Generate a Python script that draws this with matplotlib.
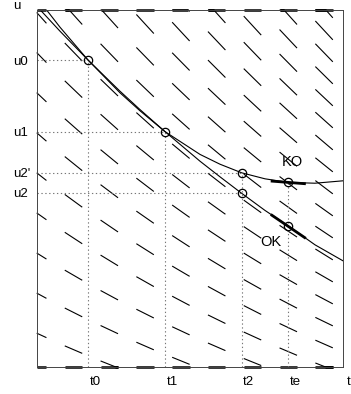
import numpy as np
import matplotlib
matplotlib.use('Agg')
import matplotlib.pyplot as plt

plt.rcParams['font.family'] = ['Liberation Sans', 'DejaVu Sans']

# axis ranges (arbitrary units)
t_min, t_max = -0.028, 8.52
u_min, u_max = 4.833, 13.75

# direction field: dash centres per column (u values)
field_t = [0, 1, 2, 3, 4, 5, 6, 7, 8]
field_u = [
    [4.66, 5.66, 6.66, 7.66, 8.66, 9.66, 10.66, 11.66, 12.66, 13.66, 14.66],
    [4.33, 5.26, 6.19, 7.12, 8.05, 8.98, 9.91, 10.84, 11.77, 12.70, 13.63, 14.56],
    [4.03, 4.89, 5.76, 6.62, 7.49, 8.35, 9.22, 10.08, 10.95, 11.81, 12.68, 13.54, 14.41],
    [4.55, 5.35, 6.16, 6.96, 7.77, 8.57, 9.38, 10.18, 10.99, 11.79, 12.59, 13.40, 14.20],
    [4.23, 4.98, 5.73, 6.48, 7.22, 7.97, 8.72, 9.47, 10.22, 10.96, 11.71, 12.46, 13.21, 13.96],
    [4.63, 5.33, 6.02, 6.72, 7.41, 8.11, 8.80, 9.50, 10.20, 10.89, 11.59, 12.28, 12.98, 13.67, 14.37],
    [4.31, 4.95, 5.60, 6.25, 6.89, 7.54, 8.19, 8.84, 9.48, 10.13, 10.78, 11.42, 12.07, 12.72, 13.36, 14.01],
    [4.61, 5.21, 5.81, 6.41, 7.01, 7.62, 8.22, 8.82, 9.42, 10.02, 10.62, 11.23, 11.83, 12.43, 13.03, 13.63, 14.23],
    [4.28, 4.84, 5.40, 5.96, 6.52, 7.08, 7.64, 8.20, 8.76, 9.32, 9.88, 10.44, 11.00, 11.56, 12.12, 12.68, 13.24, 13.80, 14.36],
]
field_slope_u = [0.0, 14.0]
field_slope = [0.0, -1.02]
dash_half = 0.244

# exact solution ("OK") and extrapolated curve ("KO")
ok_t = [0.064, 0.623, 1.405, 2.299, 2.858, 3.556, 4.534, 5.092, 5.679, 6.349, 7.020, 7.746, 8.528]
ok_u = [13.76, 13.22, 12.50, 11.72, 11.26, 10.71, 9.97, 9.58, 9.18, 8.74, 8.34, 7.88, 7.48]
ko_t = [0.249, 0.623, 1.405, 2.299, 2.858, 3.556, 4.534, 5.092, 5.698, 6.349, 7.000, 7.746, 8.528]
ko_u = [13.75, 13.32, 12.50, 11.68, 11.23, 10.71, 10.14, 9.895, 9.68, 9.53, 9.44, 9.42, 9.48]

# marked points
pt_t = [1.405, 3.556, 5.698, 5.698, 7.0, 7.0]
pt_u = [12.50, 10.71, 9.68, 9.18, 9.44, 8.34]

# tangents at te
tan_t = [7.0, 7.0]
tan_u = [9.44, 8.34]
tan_slope = [-0.07, -0.61]
tan_half = 0.49

# ticks
t_ticks = [1.405, 3.556, 5.698, 7.0]
t_labels = ['t0', 't1', 't2', 'te']
u_ticks = [12.49, 10.71, 9.68, 9.18]
u_labels = ['u0', 'u1', "u2'", 'u2']
v_start = [12.50, 10.71, 9.68, 9.44]

fig = plt.figure(figsize=(3.51, 3.94), dpi=100)
ax = fig.add_axes([36.7 / 351, (394 - 366.7) / 394, 306.0 / 351, 356.7 / 394])
ax.set_xlim(t_min, t_max)
ax.set_ylim(u_min, u_max)
ax.set_xticks([])
ax.set_yticks([])
for sp in ax.spines.values():
    sp.set_linewidth(0.7)
    sp.set_color('#444444')

# direction field (values beyond the range lie on the frame)
for tc, us in zip(field_t, field_u):
    tt = np.linspace(max(tc - dash_half, t_min), min(tc + dash_half, t_max), 41)
    for uc in us:
        s = np.interp(uc, field_slope_u, field_slope)
        uu = np.clip(uc + s * (tt - tc), u_min, u_max)
        ax.plot(tt, uu, color='black', lw=0.8, clip_on=False, solid_capstyle='butt')
        for edge in (u_min, u_max):
            m = uu == edge
            if m.sum() > 1:
                ax.plot(tt[m], uu[m], color='black', lw=1.8, clip_on=False,
                        solid_capstyle='butt')

# dotted guide lines
for tv, uv in zip(t_ticks, v_start):
    ax.plot([tv, tv], [u_min, uv], color='#777777', lw=0.8, ls=(0, (1.2, 2.3)))
for uv, tv in zip(u_ticks, [1.405, 3.556, 5.698, 5.698]):
    ax.plot([t_min, tv], [uv, uv], color='#777777', lw=0.8, ls=(0, (1.2, 2.3)))

# curves
ax.plot(ok_t, ok_u, color='black', lw=0.8)
ax.plot(ko_t, ko_u, color='black', lw=0.8)

# tangent segments
for tc, uc, s in zip(tan_t, tan_u, tan_slope):
    ax.plot([tc - tan_half, tc + tan_half], [uc - s * tan_half, uc + s * tan_half],
            color='black', lw=2.0, solid_capstyle='butt')

# points
ax.plot(pt_t, pt_u, 'o', ms=6, mfc='none', mec='black', mew=0.9)

# labels
fs = 9.5
for tv, lab in zip(t_ticks, t_labels):
    ax.text(tv + 0.04, 4.44, lab, ha='left', va='center', fontsize=fs, clip_on=False)
ax.text(8.63, 4.44, 't', ha='left', va='center', fontsize=fs, clip_on=False)
for uv, lab in zip(u_ticks, u_labels):
    ax.text(-0.69, uv - 0.04, lab, ha='left', va='center', fontsize=fs, clip_on=False)
ax.text(-0.69, 13.84, 'u', ha='left', va='center', fontsize=fs, clip_on=False)
ax.text(7.12, 9.94, 'KO', ha='center', va='center', fontsize=10.5)
ax.text(6.52, 7.96, 'OK', ha='center', va='center', fontsize=10.5)

fig.savefig('out.png', dpi=100)
